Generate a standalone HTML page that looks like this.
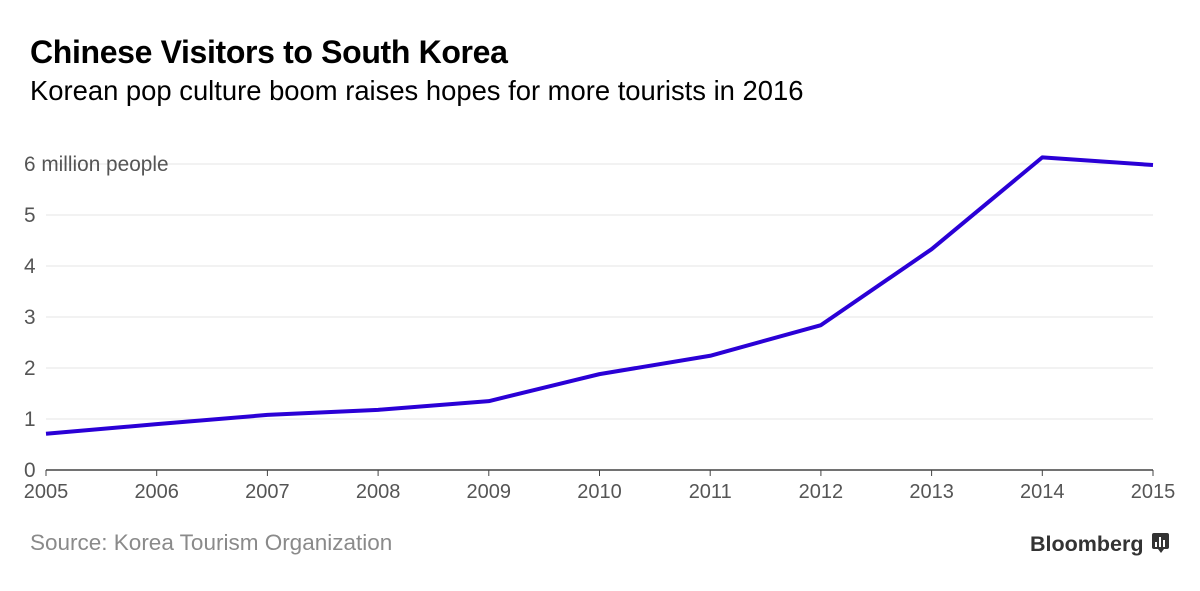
<!DOCTYPE html>
<html><head><meta charset="utf-8"><style>
body{margin:0;background:#fff;width:1200px;height:586px;overflow:hidden;font-family:"Liberation Sans",sans-serif;}
</style></head><body>
<svg width="1200" height="586">
<text x="30" y="63" font-size="32" font-weight="bold" fill="#000" letter-spacing="-0.35">Chinese Visitors to South Korea</text>
<text x="30" y="100" font-size="27.4" fill="#000">Korean pop culture boom raises hopes for more tourists in 2016</text>
<g id="grid"></g>
<g id="xaxis"></g>
<polyline id="line" fill="none" stroke="#2a00d6" stroke-width="4" stroke-linejoin="round"/>
<text x="30" y="550" font-size="22.5" fill="#8a8a8a">Source: Korea Tourism Organization</text>
<text x="1030" y="551" font-size="21.5" font-weight="bold" fill="#333">Bloomberg</text>
<g><rect x="1152" y="533" width="17" height="16" rx="2" fill="#333"/><path d="M1158 549 L1161 553 L1164 549Z" fill="#333"/><rect x="1155" y="542" width="2" height="5" fill="#fff"/><rect x="1159" y="537" width="2" height="10" fill="#fff"/><rect x="1163" y="540" width="2" height="7" fill="#fff"/></g>
</svg>
<script>
const years=[2005,2006,2007,2008,2009,2010,2011,2012,2013,2014,2015];
const visitors=[0.71,0.90,1.08,1.18,1.35,1.88,2.24,2.84,4.33,6.13,5.98];
const yTicks=[0,1,2,3,4,5,6];
const yTickLabels=["0","1","2","3","4","5","6 million people"];
const ns="http://www.w3.org/2000/svg";
const x=v=>46+(v-2005)*(1153-46)/10;
const y=v=>470-v*51;
const grid=document.getElementById('grid');
yTicks.forEach((t,i)=>{
 if(t>0){const l=document.createElementNS(ns,'line');
 
 
 l.setAttribute('x1',46);l.setAttribute('x2',1153);l.setAttribute('y1',y(t));l.setAttribute('y2',y(t));l.setAttribute('stroke','#e4e4e4');l.setAttribute('stroke-width',1);grid.appendChild(l);}
 const tx=document.createElementNS(ns,'text');
 
 
 tx.setAttribute('x',24);tx.setAttribute('y',y(t)+7);tx.setAttribute('font-size',20.8);tx.setAttribute('fill','#555');
 tx.textContent=yTickLabels[i];grid.appendChild(tx);
});
const xa=document.getElementById('xaxis');
const base=document.createElementNS(ns,'line');


base.setAttribute('x1',46);base.setAttribute('x2',1153);base.setAttribute('y1',470);base.setAttribute('y2',470);base.setAttribute('stroke','#444');base.setAttribute('stroke-width',1.5);xa.appendChild(base);
years.forEach(yr=>{
 const tk=document.createElementNS(ns,'line');
 
 
 tk.setAttribute('x1',x(yr));tk.setAttribute('x2',x(yr));tk.setAttribute('y1',470);tk.setAttribute('y2',476);tk.setAttribute('stroke','#444');xa.appendChild(tk);
 const t=document.createElementNS(ns,'text');
 
 
 t.setAttribute('x',x(yr));t.setAttribute('y',498);t.setAttribute('font-size',20);t.setAttribute('fill','#555');t.setAttribute('text-anchor','middle');t.textContent=yr;xa.appendChild(t);
});
document.getElementById('line').setAttribute('points',years.map((yr,i)=>x(yr)+','+y(visitors[i])).join(' '));
</script>
</body></html>
